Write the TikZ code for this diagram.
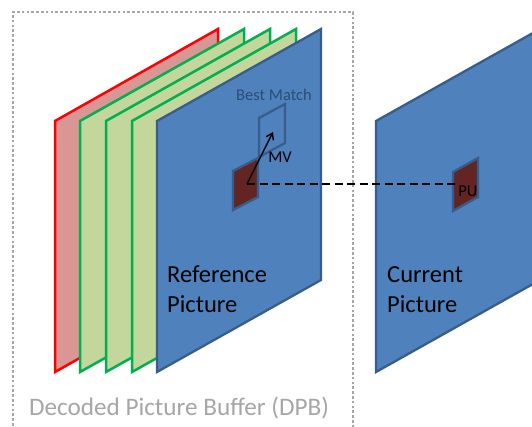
\documentclass[tikz,border=0pt]{standalone}
\usepackage{fontspec}
\setmainfont{Carlito}
\usetikzlibrary{arrows.meta}
\definecolor{picblue}{HTML}{4F81BD}
\definecolor{picborder}{HTML}{385D8A}
\definecolor{redfill}{HTML}{D99694}
\definecolor{redline}{HTML}{FF0000}
\definecolor{greenfill}{HTML}{C3D69B}
\definecolor{greenline}{HTML}{00B050}
\definecolor{pufill}{HTML}{632523}
\definecolor{dpbgray}{HTML}{A6A6A6}
\definecolor{matchtext}{HTML}{2C4D75}
\tikzset{
  redpic/.style={fill=redfill,draw=redline,line width=2.5pt,line join=miter},
  greenpic/.style={fill=greenfill,draw=greenline,line width=2.5pt,line join=miter},
  bluepic/.style={fill=picblue,draw=picborder,line width=2.3pt,line join=miter},
  pubox/.style={fill=pufill,draw=picborder,line width=2.3pt},
  matchbox/.style={fill=picblue,draw=picborder,line width=2.3pt},
  dpbbox/.style={draw=dpbgray,line width=2.6pt,dash pattern=on 2.6pt off 2.2pt},
  pictext/.style={font=\fontsize{24.5}{30}\selectfont,align=left,anchor=west,inner sep=0pt,text=black},
  smalltext/.style={font=\fontsize{16.5}{18}\selectfont,inner sep=0pt},
  mvarrow/.style={line width=1.4pt,-{Straight Barb[length=6pt,width=8pt]}},
  dashline/.style={line width=1.5pt,dash pattern=on 8pt off 4.5pt}
}
\begin{document}
\begin{tikzpicture}[x=1pt,y=-1pt]
\useasboundingbox (0,0) rectangle (532,426);
\clip (0,0) rectangle (532,426);
% DPB dotted frame
\draw[dpbbox] (13,440) -- (13,12) -- (353,12) -- (353,440);
% stacked pictures
\draw[redpic] (55,121) -- (218,29) -- (218,280) -- (55,372) -- cycle;
\draw[greenpic] (80,121) -- (244,29) -- (244,280) -- (80,372) -- cycle;
\draw[greenpic] (106,121) -- (270,29) -- (270,280) -- (106,372) -- cycle;
\draw[greenpic] (132,121) -- (296,29) -- (296,280) -- (132,372) -- cycle;
\draw[bluepic] (157,121) -- (321,29) -- (321,280) -- (157,372) -- cycle;
% current picture
\draw[bluepic] (376,121) -- (540,29) -- (540,280) -- (376,372) -- cycle;
% best match block
\draw[matchbox] (259,118) -- (285,104) -- (285,143) -- (259,157) -- cycle;
\coordinate (bm) at (273,132);
% reference PU
\draw[pubox] (233,171) -- (258,158) -- (258,197) -- (233,210) -- cycle;
\coordinate (refpu) at (247,184);
% current PU
\draw[pubox] (453,172) -- (478,158) -- (478,197) -- (453,211) -- cycle;
\coordinate (curpu) at (458,184);
% connectors
\draw[dashline] (refpu) -- (curpu);
\draw[mvarrow] (refpu) -- (bm);
% labels
\node[smalltext,text=matchtext] (bestmatch) at (274,95) {Best Match};
\node[smalltext,text=black] (mv) at (280,157) {MV};
\node[smalltext,text=black] (pu) at (468,191) {PU};
\node[pictext] (reflabel) at (167,289) {Reference\\Picture};
\node[pictext] (curlabel) at (387,290) {Current\\Picture};
\node[font=\fontsize{25.2}{28}\selectfont,text=dpbgray,inner sep=0pt] (dpb) at (179,408) {Decoded Picture Buffer (DPB)};
\end{tikzpicture}
\end{document}
